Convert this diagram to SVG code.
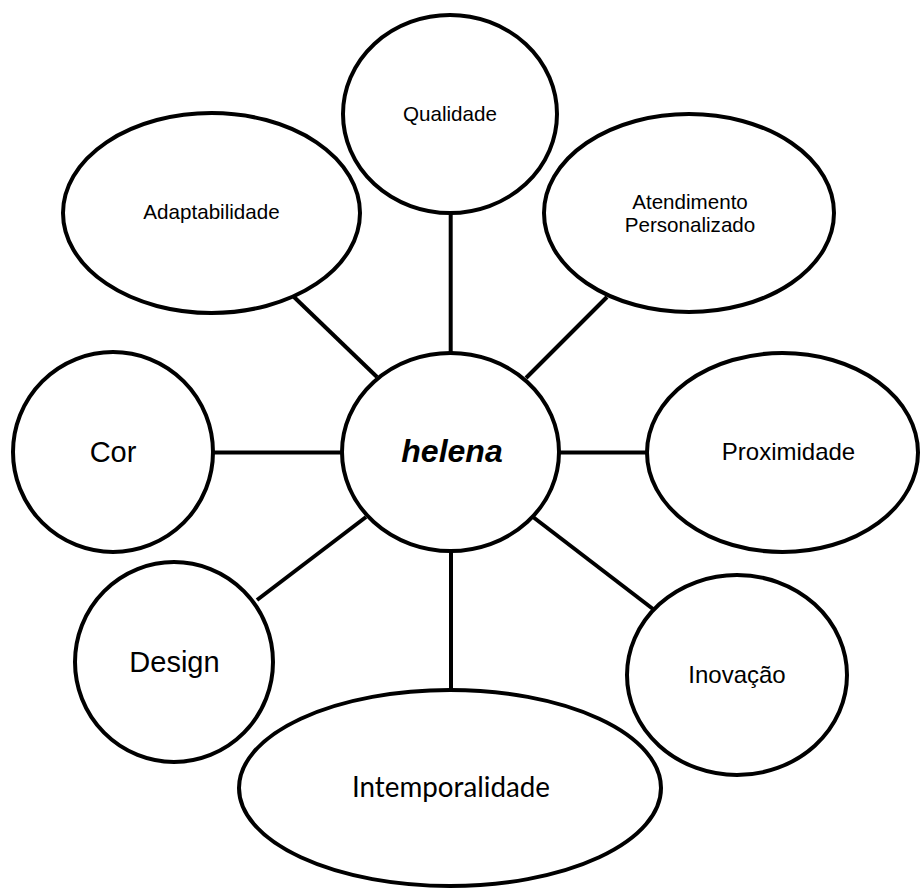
<svg xmlns="http://www.w3.org/2000/svg" width="920" height="888" viewBox="0 0 920 888">
<style>
.n{fill:#fff;stroke:#000;stroke-width:4}
.c line{stroke:#000;stroke-width:4}
text{font-family:"Liberation Sans",Arial,sans-serif;fill:#000;text-anchor:middle}
.s20{font-size:20.6px}
.s24{font-size:24px}
.s29{font-size:29px}
.cal{font-family:Lato,"Open Sans",sans-serif;font-size:28px}
.hel{font-size:32px;font-weight:bold;font-style:italic}
</style>
<rect width="920" height="888" fill="#fff"/>
<g id="connectors" class="c">
<line x1="450.7" y1="213" x2="450.7" y2="353"/>
<line x1="294" y1="297" x2="377" y2="377"/>
<line x1="607" y1="297" x2="526" y2="378"/>
<line x1="213" y1="452.5" x2="342" y2="452.5"/>
<line x1="559" y1="452.5" x2="647" y2="452.5"/>
<line x1="257" y1="600" x2="366" y2="517"/>
<line x1="533" y1="517" x2="653" y2="609"/>
<line x1="451" y1="551" x2="451" y2="690"/>
</g>
<g id="qualidade"><ellipse class="n" cx="450" cy="114" rx="107" ry="99"/><text class="s20" x="450" y="121">Qualidade</text></g>
<g id="adaptabilidade"><ellipse class="n" cx="211.5" cy="213" rx="148.5" ry="100"/><text class="s20" x="211.5" y="219">Adaptabilidade</text></g>
<g id="atendimento"><ellipse class="n" cx="689" cy="213" rx="145" ry="99"/><text class="s20" x="690" y="209">Atendimento</text><text class="s20" x="690" y="232">Personalizado</text></g>
<g id="cor"><ellipse class="n" cx="113" cy="452" rx="100" ry="100"/><text class="s29" x="113" y="462">Cor</text></g>
<g id="helena"><ellipse class="n" cx="450.5" cy="452" rx="108.5" ry="99"/><text class="hel" x="452" y="462">helena</text></g>
<g id="proximidade"><ellipse class="n" cx="782.5" cy="452.5" rx="135.5" ry="99.5"/><text class="s24" x="788.5" y="460">Proximidade</text></g>
<g id="design"><ellipse class="n" cx="174" cy="662" rx="99" ry="100"/><text class="s29" x="174.5" y="672">Design</text></g>
<g id="inovacao"><ellipse class="n" cx="737" cy="675" rx="110" ry="100"/><text class="s24" x="737" y="683">Inovação</text></g>
<g id="intemporalidade"><ellipse class="n" cx="450" cy="788" rx="211" ry="98"/><text class="cal" x="451" y="797" textLength="198" lengthAdjust="spacingAndGlyphs">Intemporalidade</text></g>
</svg>
